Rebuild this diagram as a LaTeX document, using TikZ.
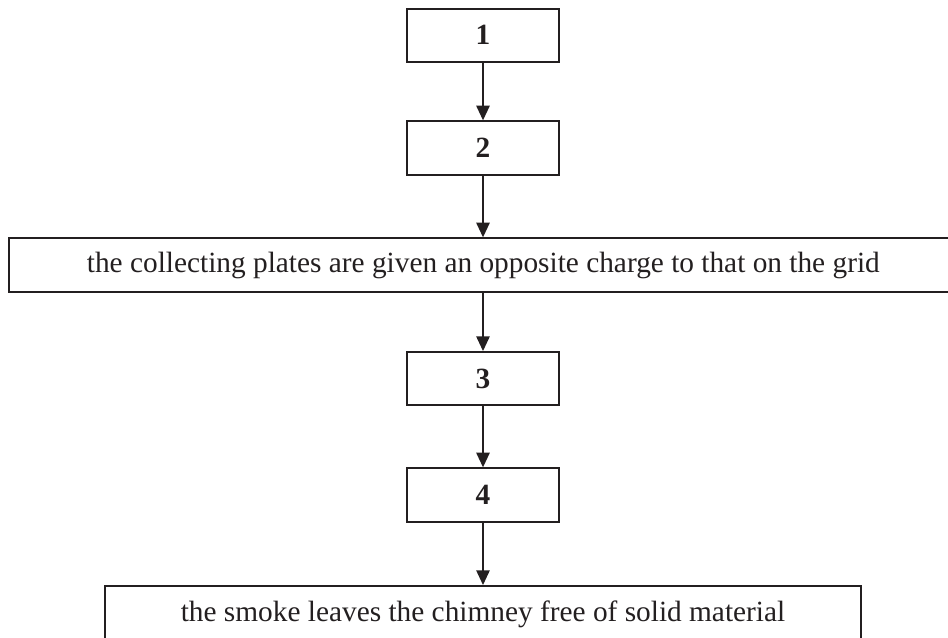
\documentclass[tikz,border=0pt]{standalone}
\usepackage{fontspec}
\setmainfont{Liberation Serif}
\usetikzlibrary{arrows.meta}
\definecolor{ink}{RGB}{35,31,32}
\begin{document}
\begin{tikzpicture}[x=0.75pt,y=-0.75pt,
  box/.style={draw=ink, line width=1.5pt, rectangle, inner sep=0pt, minimum height=40pt, text=ink, font=\fontsize{22}{26}\selectfont},
  numbox/.style={box, minimum width=114.5pt, font=\fontsize{22}{26}\selectfont\bfseries},
  arr/.style={draw=ink, line width=1.2pt, -{Triangle[length=11pt,width=10pt]}}]
\useasboundingbox (0,0) rectangle (948,637);
\node[numbox] (b1) at (483,35.2) {1};
\node[numbox] (b2) at (483,148) {2};
\node[box, minimum width=716pt] (m) at (486,265) {\hspace*{-4pt}the collecting plates are given an opposite charge to that on the grid};
\node[numbox] (b3) at (483,378.7) {3};
\node[numbox] (b4) at (483,495) {4};
\node[box, minimum width=567.5pt, minimum height=42pt, anchor=north] (e) at (483,585) {the smoke leaves the chimney free of solid material};
\draw[arr] (b1) -- (b2);
\draw[arr] (b2) -- (b2 |- m.north);
\draw[arr] (b3 |- m.south) -- (b3);
\draw[arr] (b3) -- (b4);
\draw[arr] (b4) -- (e);
\end{tikzpicture}
\end{document}
